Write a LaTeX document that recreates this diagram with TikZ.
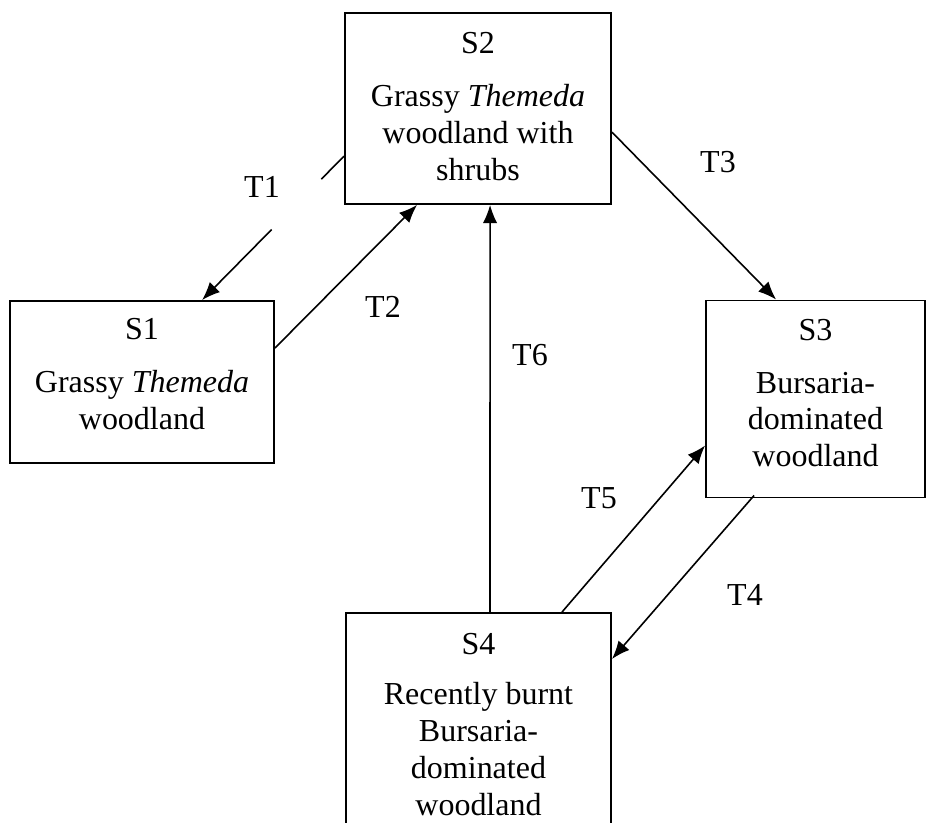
\documentclass[tikz,border=0pt]{standalone}
\usepackage{fontspec}
\setmainfont{Liberation Serif}
\usetikzlibrary{arrows.meta,calc}
\begin{document}
\begin{tikzpicture}[x=0.375pt,y=-0.375pt,
  box/.style={draw,line width=0.7pt,inner sep=0pt},
  txt/.style={anchor=north,align=center,inner sep=0pt,font=\fontsize{12}{13.8}\selectfont},
  arr/.style={line width=0.6pt,-{Latex[length=6.8pt,width=5.4pt]}}]
\useasboundingbox (0,0) rectangle (935,823);
\clip (0,0) rectangle (935,823);
% states
\node[box,minimum width=99.75pt,minimum height=71.6pt] (S2) at (478,108.5) {};
\node[box,minimum width=99pt,minimum height=60.75pt] (S1) at (142,382) {};
\node[box,minimum width=82.1pt,minimum height=73.9pt] (S3) at (815.5,399) {};
\node[box,minimum width=99.4pt,minimum height=88.9pt] (S4) at (478.5,731.5) {};
\node[txt] (S2txt) at ($(S2.north)+(0,20)$) {S2\\[6pt]Grassy \textit{Themeda}\\woodland with\\shrubs};
\node[txt] (S1txt) at ($(S1.north)+(0,18)$) {S1\\[6pt]Grassy \textit{Themeda}\\woodland};
\node[txt] (S3txt) at ($(S3.north)+(0,19)$) {S3\\[6pt]Bursaria-\\dominated\\woodland};
\node[txt] (S4txt) at ($(S4.north)+(0,21)$) {S4\\[5pt]Recently burnt\\Bursaria-\\dominated\\woodland};
% transitions
\coordinate (T1s) at ($(S2.north west)+(0,144)$);
\coordinate (T1e) at ($(S1.north west)+(193,0)$);
\draw[line width=0.6pt] (T1s) -- ($(T1s)!0.16!(T1e)$);
\draw[arr] ($(T1s)!0.51!(T1e)$) -- (T1e);
\draw[arr] ($(S1.north east)+(0,48)$) -- ($(S2.south west)+(73,0)$);
\draw[arr] ($(S2.north east)+(0,120)$) -- ($(S3.north west)+(71,0)$);
\draw[arr] ($(S4.north west)+(145,0)$) -- ($(S2.south west)+(146,0)$);
\draw[arr] ($(S4.north west)+(217,0)$) -- ($(S3.north west)+(0,146)$);
\draw[arr] ($(S3.south west)+(49,-3)$) -- ($(S4.north east)+(0,47)$);
\node[txt,anchor=center] (T1) at (262,187) {T1};
\node[txt,anchor=center] (T2) at (383,307) {T2};
\node[txt,anchor=center] (T3) at (718,162) {T3};
\node[txt,anchor=center] (T6) at (530,355) {T6};
\node[txt,anchor=center] (T5) at (599,498) {T5};
\node[txt,anchor=center] (T4) at (745,595) {T4};
\end{tikzpicture}
\end{document}
